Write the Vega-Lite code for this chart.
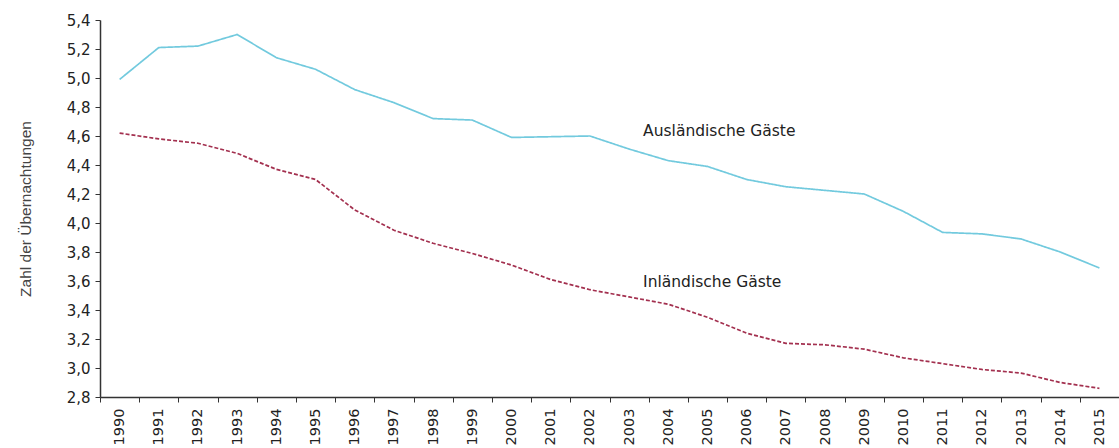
{
  "$schema": "https://vega.github.io/schema/vega-lite/v6.json",
  "width": 1019,
  "height": 377,
  "autosize": "none",
  "padding": {"left": 100, "top": 20, "right": 0, "bottom": 51},
  "background": "white",
  "config": {"view": {"stroke": null}},
  "datasets": {
    "lines": [
      {"jahr": "1990", "gruppe": "Ausländische Gäste", "wert": 4.99},
      {"jahr": "1991", "gruppe": "Ausländische Gäste", "wert": 5.21},
      {"jahr": "1992", "gruppe": "Ausländische Gäste", "wert": 5.22},
      {"jahr": "1993", "gruppe": "Ausländische Gäste", "wert": 5.30},
      {"jahr": "1994", "gruppe": "Ausländische Gäste", "wert": 5.14},
      {"jahr": "1995", "gruppe": "Ausländische Gäste", "wert": 5.06},
      {"jahr": "1996", "gruppe": "Ausländische Gäste", "wert": 4.92},
      {"jahr": "1997", "gruppe": "Ausländische Gäste", "wert": 4.83},
      {"jahr": "1998", "gruppe": "Ausländische Gäste", "wert": 4.72},
      {"jahr": "1999", "gruppe": "Ausländische Gäste", "wert": 4.71},
      {"jahr": "2000", "gruppe": "Ausländische Gäste", "wert": 4.59},
      {"jahr": "2001", "gruppe": "Ausländische Gäste", "wert": 4.595},
      {"jahr": "2002", "gruppe": "Ausländische Gäste", "wert": 4.60},
      {"jahr": "2003", "gruppe": "Ausländische Gäste", "wert": 4.51},
      {"jahr": "2004", "gruppe": "Ausländische Gäste", "wert": 4.43},
      {"jahr": "2005", "gruppe": "Ausländische Gäste", "wert": 4.39},
      {"jahr": "2006", "gruppe": "Ausländische Gäste", "wert": 4.30},
      {"jahr": "2007", "gruppe": "Ausländische Gäste", "wert": 4.25},
      {"jahr": "2008", "gruppe": "Ausländische Gäste", "wert": 4.225},
      {"jahr": "2009", "gruppe": "Ausländische Gäste", "wert": 4.20},
      {"jahr": "2010", "gruppe": "Ausländische Gäste", "wert": 4.08},
      {"jahr": "2011", "gruppe": "Ausländische Gäste", "wert": 3.935},
      {"jahr": "2012", "gruppe": "Ausländische Gäste", "wert": 3.925},
      {"jahr": "2013", "gruppe": "Ausländische Gäste", "wert": 3.89},
      {"jahr": "2014", "gruppe": "Ausländische Gäste", "wert": 3.80},
      {"jahr": "2015", "gruppe": "Ausländische Gäste", "wert": 3.69},
      {"jahr": "1990", "gruppe": "Inländische Gäste", "wert": 4.62},
      {"jahr": "1991", "gruppe": "Inländische Gäste", "wert": 4.58},
      {"jahr": "1992", "gruppe": "Inländische Gäste", "wert": 4.55},
      {"jahr": "1993", "gruppe": "Inländische Gäste", "wert": 4.48},
      {"jahr": "1994", "gruppe": "Inländische Gäste", "wert": 4.37},
      {"jahr": "1995", "gruppe": "Inländische Gäste", "wert": 4.30},
      {"jahr": "1996", "gruppe": "Inländische Gäste", "wert": 4.09},
      {"jahr": "1997", "gruppe": "Inländische Gäste", "wert": 3.95},
      {"jahr": "1998", "gruppe": "Inländische Gäste", "wert": 3.86},
      {"jahr": "1999", "gruppe": "Inländische Gäste", "wert": 3.79},
      {"jahr": "2000", "gruppe": "Inländische Gäste", "wert": 3.71},
      {"jahr": "2001", "gruppe": "Inländische Gäste", "wert": 3.61},
      {"jahr": "2002", "gruppe": "Inländische Gäste", "wert": 3.54},
      {"jahr": "2003", "gruppe": "Inländische Gäste", "wert": 3.49},
      {"jahr": "2004", "gruppe": "Inländische Gäste", "wert": 3.44},
      {"jahr": "2005", "gruppe": "Inländische Gäste", "wert": 3.35},
      {"jahr": "2006", "gruppe": "Inländische Gäste", "wert": 3.24},
      {"jahr": "2007", "gruppe": "Inländische Gäste", "wert": 3.17},
      {"jahr": "2008", "gruppe": "Inländische Gäste", "wert": 3.16},
      {"jahr": "2009", "gruppe": "Inländische Gäste", "wert": 3.13},
      {"jahr": "2010", "gruppe": "Inländische Gäste", "wert": 3.07},
      {"jahr": "2011", "gruppe": "Inländische Gäste", "wert": 3.03},
      {"jahr": "2012", "gruppe": "Inländische Gäste", "wert": 2.99},
      {"jahr": "2013", "gruppe": "Inländische Gäste", "wert": 2.965},
      {"jahr": "2014", "gruppe": "Inländische Gäste", "wert": 2.90},
      {"jahr": "2015", "gruppe": "Inländische Gäste", "wert": 2.86}
    ],
    "labels": [
      {"jahr": "2003", "wert": 4.635, "text": "Ausländische Gäste", "gruppe": "Ausländische Gäste"},
      {"jahr": "2003", "wert": 3.59, "text": "Inländische Gäste", "gruppe": "Inländische Gäste"}
    ]
  },
  "encoding": {
    "x": {
      "field": "jahr",
      "type": "ordinal",
      "bandPosition": 0.5,
      "scale": {"type": "band", "paddingInner": 0, "paddingOuter": 0},
      "axis": {
        "title": null,
        "labelAngle": -90,
        "labelAlign": "right",
        "labelBaseline": "middle",
        "labelFont": "DejaVu Sans",
        "labelFontSize": 14.5,
        "labelColor": "#222",
        "labelPadding": 6,
        "tickBand": "extent",
        "tickSize": 5,
        "tickColor": "#333",
        "domainColor": "#333",
        "domainWidth": 1.5,
        "grid": false
      }
    },
    "y": {
      "field": "wert",
      "type": "quantitative",
      "scale": {"domain": [2.8, 5.4], "nice": false, "zero": false},
      "axis": {
        "title": "Zahl der Übernachtungen",
        "titleFont": "Liberation Sans",
        "titleFontSize": 15.5,
        "titleFontWeight": "normal",
        "titleColor": "#444",
        "titlePadding": 33,
        "values": [2.8, 3.0, 3.2, 3.4, 3.6, 3.8, 4.0, 4.2, 4.4, 4.6, 4.8, 5.0, 5.2, 5.4],
        "labelExpr": "replace(format(datum.value, '.1f'), '.', ',')",
        "labelFont": "DejaVu Sans",
        "labelFontSize": 15,
        "labelColor": "#222",
        "labelPadding": 5,
        "tickSize": 5,
        "tickColor": "#333",
        "domainColor": "#333",
        "domainWidth": 1.5,
        "grid": false
      }
    }
  },
  "layer": [
    {
      "data": {"name": "lines"},
      "mark": {"type": "line", "strokeWidth": 1.7},
      "encoding": {
        "detail": {"field": "gruppe"},
        "color": {
          "field": "gruppe",
          "type": "nominal",
          "scale": {"domain": ["Ausländische Gäste", "Inländische Gäste"], "range": ["#72cade", "#a3304f"]},
          "legend": null
        },
        "strokeDash": {
          "field": "gruppe",
          "type": "nominal",
          "scale": {"domain": ["Ausländische Gäste", "Inländische Gäste"], "range": [[1, 0], [4, 2]]},
          "legend": null
        }
      }
    },
    {
      "data": {"name": "labels"},
      "mark": {"type": "text", "align": "left", "baseline": "middle", "dx": 14, "font": "DejaVu Sans", "fontSize": 15.5, "color": "#222"},
      "encoding": {
        "text": {"field": "text"}
      }
    }
  ]
}
